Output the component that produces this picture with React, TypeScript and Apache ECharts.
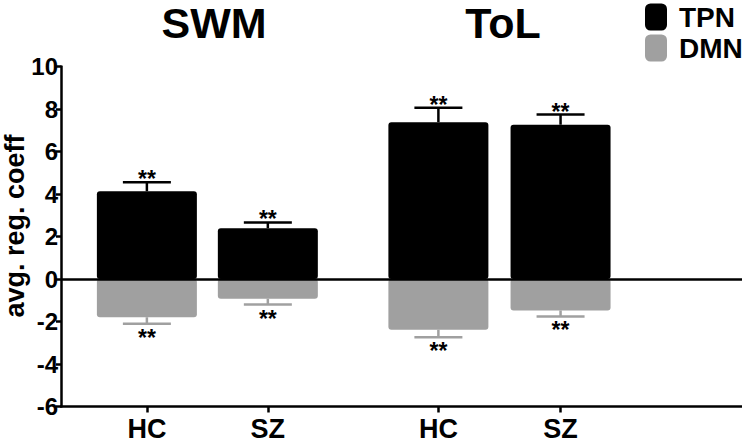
import React, { useEffect, useRef } from "react";
import * as echarts from "echarts";

const groupTitles = ["SWM", "ToL"];
const categories = ["HC", "SZ", "HC", "SZ"];
const xPositions = [1, 2, 3.41, 4.42];
const tpnValues = [4.13, 2.39, 7.38, 7.26];
const tpnErrors = [0.42, 0.27, 0.68, 0.48];
const dmnValues = [-1.8, -0.93, -2.39, -1.48];
const dmnErrors = [0.3, 0.27, 0.35, 0.28];
const tpnStars = ["**", "**", "**", "**"];
const dmnStars = ["**", "**", "**", "**"];
const yMin = -6;
const yMax = 10;
const yInterval = 2;

const BLACK = "#000000";
const GRAY = "#a0a0a0";
const FONT = "'Liberation Sans', Arial, Helvetica, sans-serif";

function errorSeries(name: string, values: number[], errors: number[], stars: string[], color: string, up: boolean) {
  return {
    type: "custom",
    name: name + "_err",
    silent: true,
    z: 5,
    data: values.map((v, i) => [xPositions[i], v, errors[i], i]),
    renderItem: (params: any, api: any) => {
      const x = api.value(0);
      const v = api.value(1);
      const e = api.value(2);
      const idx = api.value(3);
      const end = up ? v + e : v - e;
      const p0 = api.coord([x, v]);
      const p1 = api.coord([x, end]);
      const half = 24;
      return {
        type: "group",
        children: [
          {
            type: "line",
            shape: { x1: p0[0], y1: p0[1], x2: p1[0], y2: p1[1] },
            style: { stroke: color, lineWidth: 2.5 },
          },
          {
            type: "line",
            shape: { x1: p1[0] - half, y1: p1[1], x2: p1[0] + half, y2: p1[1] },
            style: { stroke: color, lineWidth: 2.5 },
          },
          {
            type: "text",
            x: p1[0],
            y: up ? p1[1] - 3 : p1[1] + 14,
            style: {
              text: stars[idx],
              fill: BLACK,
              font: `bold 23px ${FONT}`,
              align: "center",
              verticalAlign: "middle",
            },
          },
        ],
      };
    },
  };
}

export default function App() {
  const ref = useRef<HTMLDivElement>(null);
  useEffect(() => {
    document.body.style.margin = "0";
    if (!ref.current) return;
    const chart = echarts.init(ref.current, undefined, { renderer: "svg" });
    const gridLeft = 61;
    const gridTop = 66.5;
    const gridBottom = 443 - 406.5;
    const option: any = {
      animation: false,
      backgroundColor: "#ffffff",
      textStyle: { fontFamily: FONT },
      grid: { left: gridLeft, right: 0, top: gridTop, bottom: gridBottom, containLabel: false },
      legend: {
        orient: "vertical",
        left: 645,
        top: 3,
        itemWidth: 22,
        itemHeight: 27,
        itemGap: 3,
        icon: "roundRect",
        data: ["TPN", "DMN"],
        textStyle: { fontSize: 28, fontWeight: "bold", color: BLACK, fontFamily: FONT, padding: [0, 0, 0, 7] },
        padding: 0,
      },
      xAxis: {
        type: "value",
        min: 0.29,
        max: 5.92,
        splitLine: { show: false },
        axisLine: { show: true, onZero: false, lineStyle: { color: BLACK, width: 2.5 } },
        axisTick: { show: true, customValues: xPositions, length: 6, lineStyle: { color: BLACK, width: 2.5 } },
        axisLabel: {
          customValues: xPositions,
          formatter: (val: number) => {
            const i = xPositions.findIndex((p) => Math.abs(p - val) < 1e-6);
            return i >= 0 ? categories[i] : "";
          },
          fontSize: 27,
          fontWeight: "bold",
          color: BLACK,
          margin: 9,
          fontFamily: FONT,
        },
      },
      yAxis: {
        type: "value",
        min: yMin,
        max: yMax,
        interval: yInterval,
        splitLine: { show: false },
        axisLine: { show: true, lineStyle: { color: BLACK, width: 2.5 } },
        axisTick: { show: true, length: 5, lineStyle: { color: BLACK, width: 2.5 } },
        axisLabel: { fontSize: 24, fontWeight: "bold", color: BLACK, margin: 3, fontFamily: FONT },
      },
      graphic: [
        {
          type: "text",
          x: 15,
          y: 226,
          rotation: Math.PI / 2,
          style: {
            text: "avg. reg. coeff",
            font: `bold 27px ${FONT}`,
            fill: BLACK,
            align: "center",
            verticalAlign: "middle",
          },
        },
        {
          type: "text",
          x: 214,
          y: 23,
          style: { text: groupTitles[0], font: `bold 43px ${FONT}`, fill: BLACK, align: "center", verticalAlign: "middle" },
        },
        {
          type: "text",
          x: 503,
          y: 23,
          style: { text: groupTitles[1], font: `bold 43px ${FONT}`, fill: BLACK, align: "center", verticalAlign: "middle" },
        },
      ],
      series: [
        {
          type: "bar",
          name: "TPN",
          stack: "net",
          barWidth: 100,
          itemStyle: { color: BLACK, borderRadius: 3 },
          data: tpnValues.map((v, i) => [xPositions[i], v]),
          z: 2,
        },
        {
          type: "bar",
          name: "DMN",
          stack: "net",
          barWidth: 100,
          itemStyle: { color: GRAY, borderRadius: 3 },
          data: dmnValues.map((v, i) => [xPositions[i], v]),
          z: 2,
          markLine: {
            silent: true,
            symbol: "none",
            label: { show: false },
            lineStyle: { color: BLACK, width: 2.5, type: "solid" },
            data: [{ yAxis: 0 }],
            z: 6,
          },
        },
        errorSeries("TPN", tpnValues, tpnErrors, tpnStars, BLACK, true),
        errorSeries("DMN", dmnValues, dmnErrors, dmnStars, GRAY, false),
      ],
    };
    chart.setOption(option);
    return () => chart.dispose();
  }, []);
  return <div ref={ref} style={{ width: 742, height: 443 }} />;
}
